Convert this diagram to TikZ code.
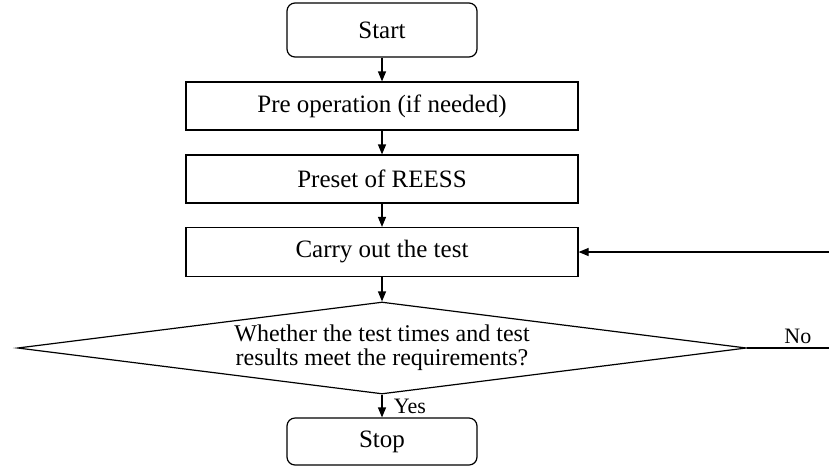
\documentclass[tikz,border=0pt]{standalone}
\usepackage{fontspec}
\setmainfont{Liberation Serif}
\usetikzlibrary{arrows.meta, shapes.geometric}

\begin{document}
\begin{tikzpicture}[x=1pt, y=-1pt]
    \tikzstyle{b}=[draw, rectangle, line width=1.2pt, minimum width=392pt, minimum height=48pt, font=\fontsize{25}{28}\selectfont]
    \tikzstyle{t}=[b, rounded corners=8pt, minimum width=190pt]
    \tikzstyle{d}=[draw, diamond, aspect=8, inner sep=0pt, line width=1.2pt, minimum width=729pt, minimum height=92pt, align=center, font=\fontsize{24}{24}\selectfont]
    \tikzstyle{e}=[-{Triangle[length=10pt,width=8pt]}, line width=1.2pt]
    \tikzstyle{l}=[font=\fontsize{22}{26}\selectfont]

    \def\cx{382}

    \useasboundingbox (0,0) rectangle (829,467);

    \node[t, minimum height=54pt] (start) at (\cx,30) {Start};
    \node[b] (pre) at (\cx,106) {Pre operation (if needed)};
    \node[b] (preset) at (\cx,179) {Preset of REESS};
    \node[b, minimum height=49pt] (carry) at (\cx,252) {Carry out the test};
    \node[d] (check) at (\cx,348) {Whether the test times and test\\results meet the requirements?};
    \node[t, minimum height=47pt] (stop) at (\cx,441.5) {Stop};

    \coordinate (back) at (829,252);
    \coordinate (noend) at (829,348);

    \draw[e] (start) -- (pre);
    \draw[e] (pre) -- (preset);
    \draw[e] (preset) -- (carry);
    \draw[e] (carry) -- (check);
    \draw[e] (check) -- node[l, right, xshift=8pt] (yes) {Yes} (stop);
    \draw[line width=1.2pt] (check.east) -- node[l, above, pos=0.62] (no) {No} (noend);
    \draw[e] (back) -- (carry);

\end{tikzpicture}
\end{document}
